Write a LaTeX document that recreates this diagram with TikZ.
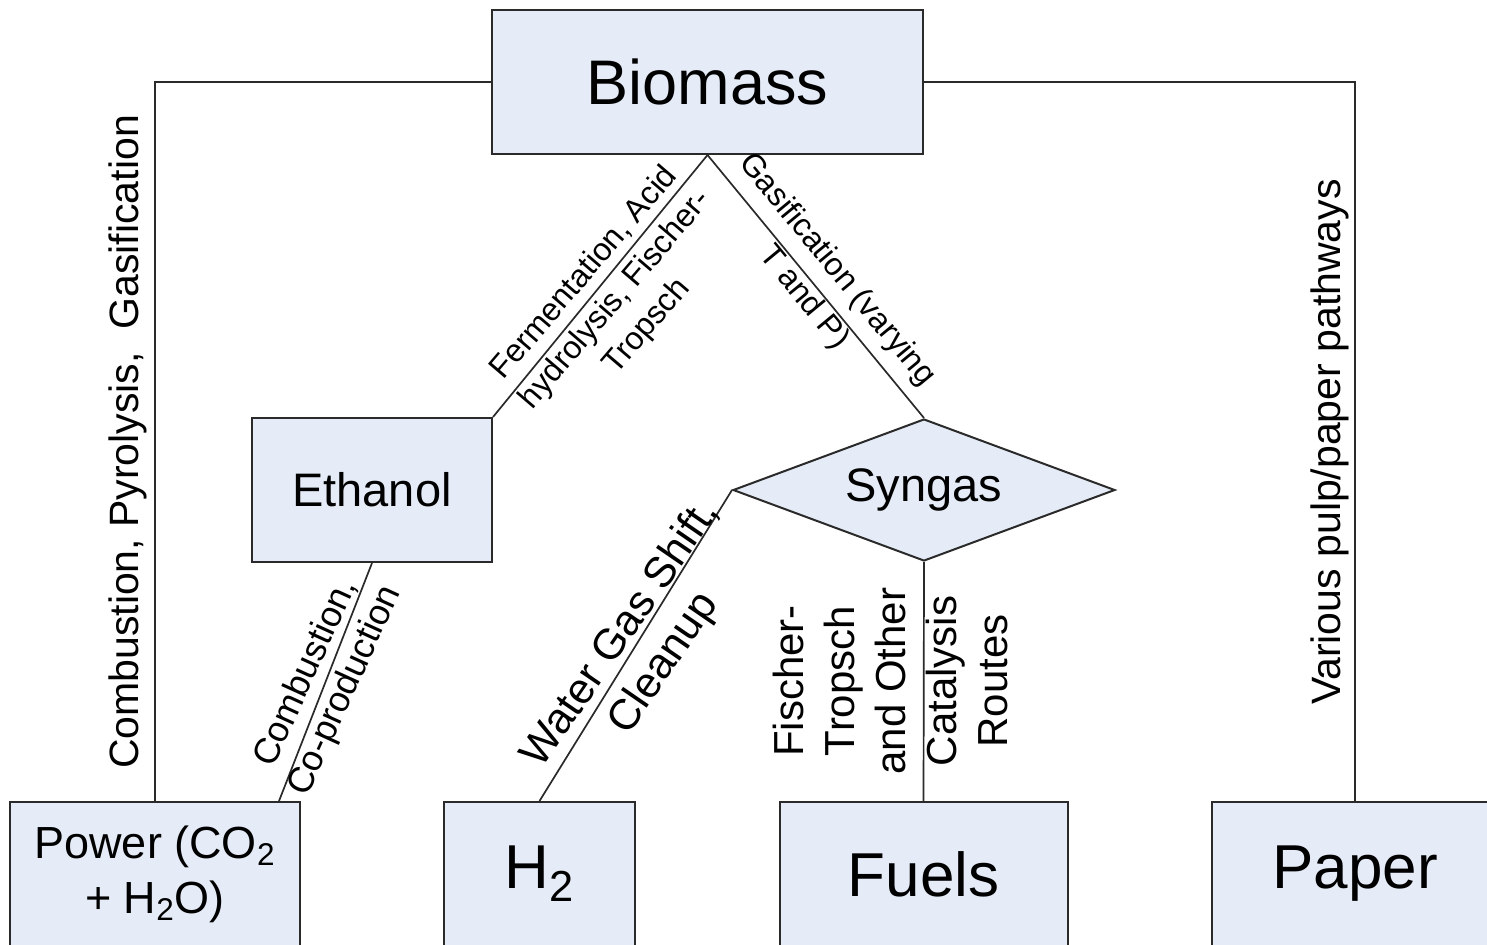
\documentclass[tikz,border=0pt]{standalone}
\usepackage{fontspec}
\setmainfont{Liberation Sans}
\usetikzlibrary{shapes.geometric,calc}
\definecolor{boxfill}{HTML}{E6ECF7}
\definecolor{edge}{HTML}{2A2A2A}

\tikzset{
  box/.style={draw=edge, line width=1pt, fill=boxfill, rectangle, inner sep=0pt, align=center},
  gate/.style={draw=edge, line width=1pt, fill=boxfill, diamond, aspect=2.69, inner sep=0pt},
  link/.style={draw=edge, line width=0.85pt},
  lbl/.style={inner sep=0pt, align=center},
  bigtxt/.style={font=\fontsize{31}{36}\selectfont},
  midtxt/.style={font=\fontsize{23.5}{28}\selectfont},
}

\begin{document}
\begin{tikzpicture}[x=0.5pt, y=-0.5pt]
\useasboundingbox (0,0) rectangle (1487,944);
\clip (0,0) rectangle (1487,944);

% process nodes
\node[box, minimum width=215.5pt, minimum height=72pt,
      font=\fontsize{31.5}{36}\selectfont] (biomass) at (707.5,82) {Biomass};
\node[box, midtxt, minimum width=120pt, minimum height=72pt] (ethanol) at (372,490) {Ethanol};
\node[gate, midtxt, minimum width=191pt, minimum height=71pt] (syngas) at (924,490) {Syngas};

% products (boxes run past the lower edge)
\node[box, minimum width=145pt, minimum height=72pt,
      font=\fontsize{22.5}{27.5}\selectfont] (power) at (155,874)
      {Power (CO\textsubscript{2}\\+ H\textsubscript{2}O)};
\node[box, bigtxt, minimum width=95.5pt, minimum height=72pt] (h2) at (539.5,874) {H\textsubscript{2}};
\node[box, bigtxt, minimum width=144pt, minimum height=72pt] (fuels) at (923.5,874) {Fuels};
\node[box, bigtxt, minimum width=143pt, minimum height=72pt] (paper) at (1355,874) {Paper};

\coordinate (powerin) at ($(power.north east)+(-22,0)$);

% connectors
\draw[link] (biomass.west) -| (power.north);
\draw[link] (biomass.east) -| (paper.north);
\draw[link] (biomass.south) -- (ethanol.north east);
\draw[link] (biomass.south) -- (syngas.north);
\draw[link] (ethanol.south) -- (powerin);
\draw[link] (syngas.west) -- (h2.north);
\draw[link] (syngas.south) -- (fuels.north);

% pathway labels
\node[lbl, rotate=90, font=\fontsize{20.5}{24}\selectfont] (lcomb) at (128,442)
  {Combustion, Pyrolysis,\ \ Gasification};
\node[lbl, rotate=90, font=\fontsize{20.5}{24}\selectfont] (lpulp) at (1330,442)
  {Various pulp/paper pathways};
\node[lbl, rotate=49.5, font=\fontsize{16}{20.5}\selectfont] (lferm) at (616,300)
  {Fermentation, Acid\\hydrolysis, Fischer-\\Tropsch};
\node[lbl, rotate=-50.5, font=\fontsize{16}{21.5}\selectfont] (lgas) at (820,284)
  {Gasification (varying\\T and P)};
\node[lbl, rotate=65.5, font=\fontsize{18}{21.5}\selectfont] (lcop) at (326,682)
  {Combustion,\\Co-production};
\node[lbl, rotate=55.5, font=\fontsize{21.5}{26}\selectfont] (lwgs) at (643,649)
  {Water Gas Shift,\\Cleanup};
\node[lbl, rotate=90, font=\fontsize{21}{25.5}\selectfont] (lft) at (890,681)
  {Fischer-\\Tropsch\\and Other\\Catalysis\\Routes};
\end{tikzpicture}
\end{document}
